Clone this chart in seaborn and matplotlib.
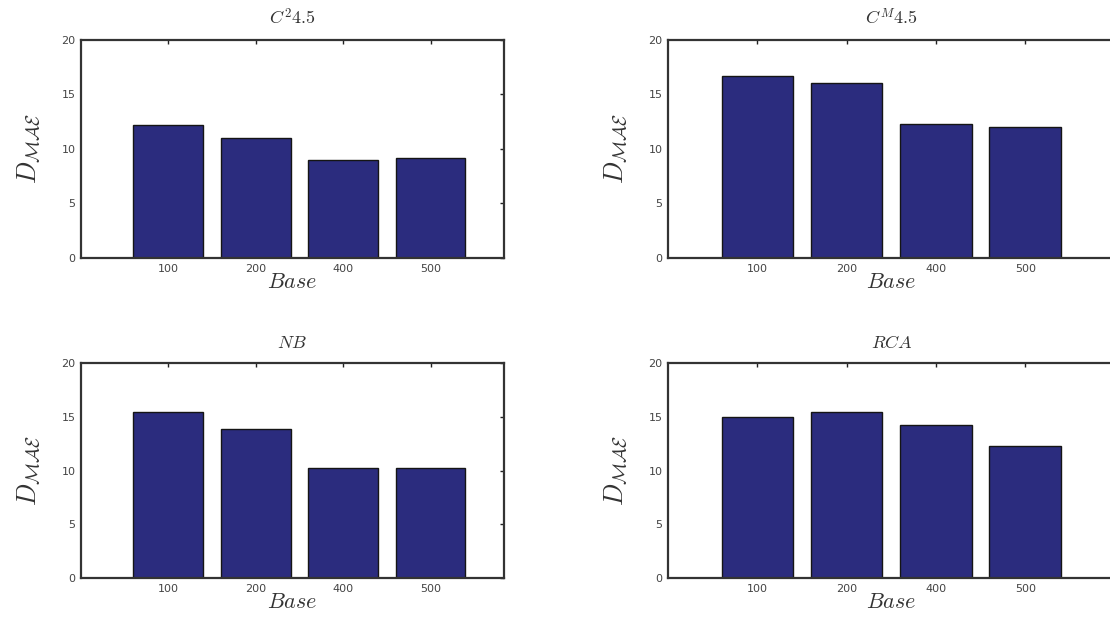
import matplotlib
matplotlib.use("Agg")
import matplotlib.pyplot as plt
import seaborn as sns
import pandas as pd

# Data: D_MAE for each base size, per classifier
bases = ["100", "200", "400", "500"]
c2_45 = [12.2, 11.0, 9.0, 9.2]
cm_45 = [16.7, 16.0, 12.3, 12.0]
nb = [15.4, 13.9, 10.2, 10.2]
rca = [15.0, 15.4, 14.2, 12.3]

titles = [r"$C^{2}4.5$", r"$C^{M}4.5$", r"$NB$", r"$RCA$"]
series = [c2_45, cm_45, nb, rca]

sns.set_theme(style="white")
plt.rcParams["font.family"] = ["DejaVu Sans"]
plt.rcParams["mathtext.fontset"] = "cm"

fig = plt.figure(figsize=(11.10, 6.31), dpi=100)

# axes rectangles [left, bottom, width, height] in figure fractions
rects = [
    [0.073, 0.591, 0.381, 0.346],
    [0.602, 0.591, 0.402, 0.346],
    [0.073, 0.0835, 0.381, 0.3415],
    [0.602, 0.0835, 0.402, 0.3415],
]
xlims = [(-1.0, 3.84), (-1.0, 4.0), (-1.0, 3.84), (-1.0, 4.0)]

bar_color = "#2b2c7e"
spine_color = "#333333"

for rect, title, vals, xl in zip(rects, titles, series, xlims):
    ax = fig.add_axes(rect)
    df = pd.DataFrame({"Base": bases, "D": vals})
    sns.barplot(data=df, x="Base", y="D", order=bases, color=bar_color,
                saturation=1, width=0.8, edgecolor="#151515", linewidth=1.0,
                ax=ax)
    ax.set_xlim(*xl)
    ax.set_ylim(0, 20)
    ax.set_yticks([0, 5, 10, 15, 20])
    ax.set_yticklabels(["0", "5", "10", "15", "20"])
    ax.tick_params(axis="both", direction="in", length=3, width=1,
                   color="#222222", labelsize=8, labelcolor="#444444",
                   top=True, right=True, pad=4)
    for s in ax.spines.values():
        s.set_visible(True)
        s.set_color(spine_color)
        s.set_linewidth(1.6)
    ax.set_title(title, fontsize=13, color="#333333", pad=11)
    ax.set_xlabel(r"$Base$", fontsize=16, color="#333333", labelpad=-1)
    ax.set_ylabel(r"$D_{\mathcal{MAE}}$", fontsize=19, color="#333333",
                  labelpad=14)

fig.savefig("out.png", dpi=100, facecolor="white")
